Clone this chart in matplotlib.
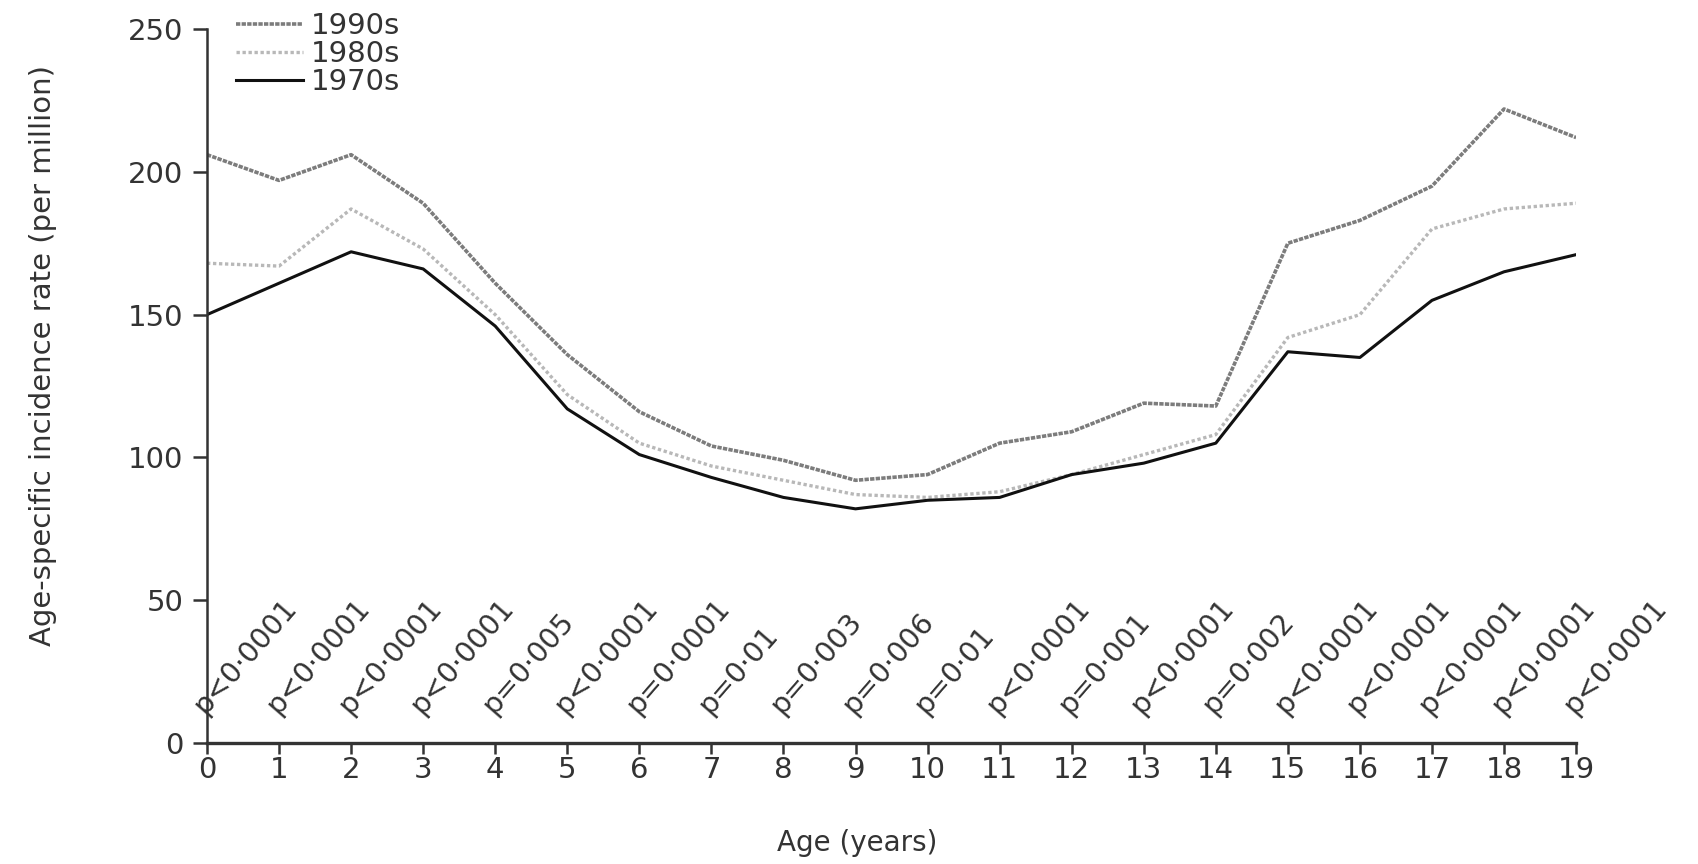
from matplotlib import pyplot as plt

# ages 0-19
ages = list(range(20))

# age-specific incidence rate (per million)
rate1990s = [206, 197, 206, 189, 161, 136, 116, 104, 99, 92,
             94, 105, 109, 119, 118, 175, 183, 195, 222, 212]
rate1980s = [168, 167, 187, 173, 150, 122, 105, 97, 92, 87,
             86, 88, 94, 101, 108, 142, 150, 180, 187, 189]
rate1970s = [150, 161, 172, 166, 146, 117, 101, 93, 86, 82,
             85, 86, 94, 98, 105, 137, 135, 155, 165, 171]

pLabels = ['p<0·0001', 'p<0·0001', 'p<0·0001', 'p<0·0001', 'p=0·005',
           'p<0·0001', 'p=0·0001', 'p=0·01', 'p=0·003', 'p=0·006',
           'p=0·01', 'p<0·0001', 'p=0·001', 'p<0·0001', 'p=0·002',
           'p<0·0001', 'p<0·0001', 'p<0·0001', 'p<0·0001', 'p<0·0001']

yTicks = [0, 50, 100, 150, 200, 250]

#================================================================================
def main():
    textColor = '#333333'
    plt.rcParams['font.family'] = ['DejaVu Sans']

    fig = plt.figure(figsize=(16.98, 8.64), dpi=100)
    ax = fig.add_axes([0.1219, 0.140, 0.8063, 0.8264])

    l90, = ax.plot(ages, rate1990s, color='#7c7c7c', lw=2.6,
                   linestyle=(0, (1.2, 0.35)))
    l80, = ax.plot(ages, rate1980s, color='#b8b8b8', lw=2.4,
                   linestyle=(0, (1.0, 0.8)))
    l70, = ax.plot(ages, rate1970s, color='#111111', lw=2.2)

    ax.set_xlim(0, 19)
    ax.set_ylim(0, 250)
    ax.set_xticks(ages)
    ax.set_yticks(yTicks)
    for s in ['top', 'right']:
        ax.spines[s].set_visible(False)
    ax.spines['left'].set_linewidth(1.8)
    ax.spines['bottom'].set_linewidth(2.4)
    ax.spines['left'].set_color(textColor)
    ax.spines['bottom'].set_color(textColor)
    ax.tick_params(axis='both', direction='out', length=10, width=1.8,
                   labelsize=21, colors=textColor)
    ax.tick_params(axis='x', length=8, pad=1)
    ax.tick_params(axis='y', pad=7)

    # p values written above each age
    for a, lab in zip(ages, pLabels):
        ax.text(a + 0.04, 8.5, lab, rotation=49, rotation_mode='anchor',
                ha='left', va='bottom', fontsize=20.5, color=textColor)

    fig.text(0.0255, 0.589, 'Age-specific incidence rate (per million)',
             rotation=90, ha='center', va='center', fontsize=21,
             color=textColor)
    fig.text(0.505, 0.024, 'Age (years)', ha='center', va='center',
             fontsize=20, color=textColor)

    fig.legend([l90, l80, l70], ['1990s', '1980s', '1970s'],
               loc='upper left', bbox_to_anchor=(236 / 1698, 1 - 12 / 864),
               bbox_transform=fig.transFigure, frameon=False, fontsize=21,
               handlelength=2.3, handletextpad=0.25, labelspacing=0.0,
               borderpad=0, borderaxespad=0, labelcolor=textColor)

    fig.savefig('out.png', dpi=100)


if __name__ == "__main__":
    main()
